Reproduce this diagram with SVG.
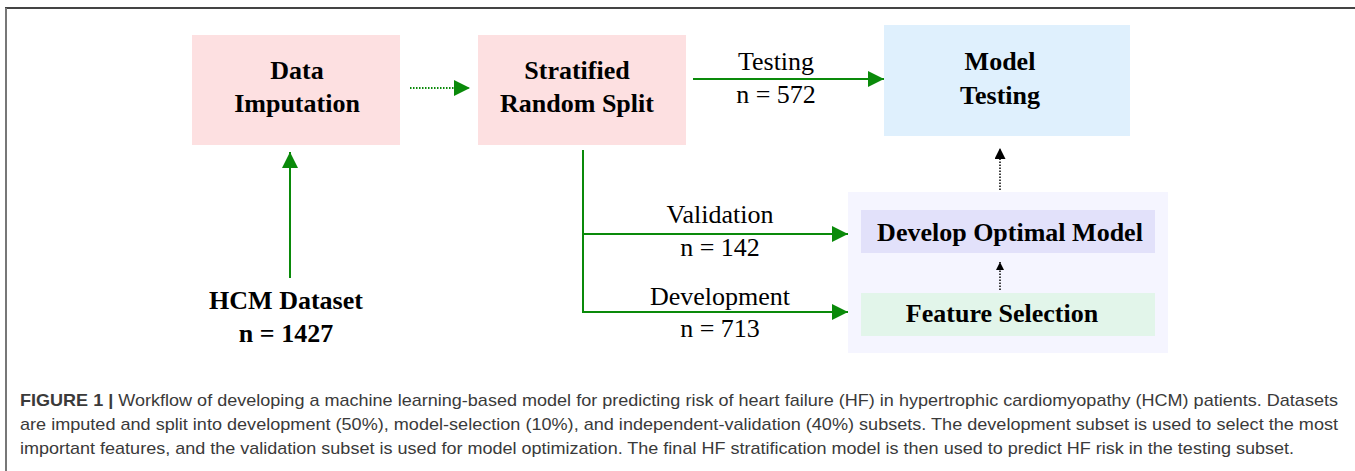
<svg xmlns="http://www.w3.org/2000/svg" width="1355" height="471" viewBox="0 0 1355 471">
  <style>
    .box-text { font-family: "Liberation Serif", "Times New Roman", serif; font-weight: bold; font-size: 26px; fill: #000; text-anchor: middle; }
    .edge-label { font-family: "Liberation Serif", "Times New Roman", serif; font-size: 26px; fill: #000; text-anchor: middle; }
    .flow { stroke: #0a8a0a; stroke-width: 2; fill: none; }
    .flow-dot { stroke: #0a8a0a; stroke-width: 2; fill: none; stroke-dasharray: 1.5 1.5; }
    .ctrl-dot { stroke: #000; stroke-width: 1.5; fill: none; stroke-dasharray: 1.5 1.5; }
    .caption { font-family: "Liberation Sans", Arial, sans-serif; font-size: 17px; fill: #3a3a3a; }
  </style>
  <defs>
    <marker id="arrow-green-lg" viewBox="0 0 10 10" refX="10" refY="5" markerWidth="24" markerHeight="16" markerUnits="userSpaceOnUse" orient="auto">
      <path d="M0,0 L10,5 L0,10 z" fill="#0a8a0a"/>
    </marker>
    <marker id="arrow-black" viewBox="0 0 10 10" refX="10" refY="5" markerWidth="15" markerHeight="11" markerUnits="userSpaceOnUse" orient="auto">
      <path d="M0,0 L10,5 L0,10 z" fill="#000"/>
    </marker>
    <marker id="arrow-black-sm" viewBox="0 0 10 10" refX="10" refY="5" markerWidth="11" markerHeight="8" markerUnits="userSpaceOnUse" orient="auto">
      <path d="M0,0 L10,5 L0,10 z" fill="#000"/>
    </marker>
  </defs>

  <!-- frame -->
  <line x1="5" y1="8" x2="1355" y2="8" stroke="#444" stroke-width="2"/>
  <line x1="6" y1="8" x2="6" y2="471" stroke="#777" stroke-width="2"/>

  <!-- model development container -->
  <rect id="dev-container" x="848" y="192" width="320" height="161" fill="#f5f5ff"/>

  <g id="data-imputation">
    <rect x="192" y="35" width="208" height="110" fill="#fde0e1"/>
    <text class="box-text" x="297" y="79">Data</text>
    <text class="box-text" x="297" y="112">Imputation</text>
  </g>

  <g id="stratified-split">
    <rect x="478" y="35" width="208" height="110" fill="#fde0e1"/>
    <text class="box-text" x="577" y="79">Stratified</text>
    <text class="box-text" x="577" y="112">Random Split</text>
  </g>

  <g id="model-testing">
    <rect x="884" y="25" width="246" height="111" fill="#dff0fd"/>
    <text class="box-text" x="1000" y="70">Model</text>
    <text class="box-text" x="1000" y="104">Testing</text>
  </g>

  <g id="develop-optimal-model">
    <rect x="861" y="210" width="294" height="43" fill="#e2e1fa"/>
    <text class="box-text" x="1010" y="241">Develop Optimal Model</text>
  </g>

  <g id="feature-selection">
    <rect x="861" y="293" width="294" height="43" fill="#e2f5ea"/>
    <text class="box-text" x="1002" y="322">Feature Selection</text>
  </g>

  <g id="hcm-dataset">
    <text class="box-text" x="286" y="309">HCM Dataset</text>
    <text class="box-text" x="286" y="342">n = 1427</text>
  </g>

  <g id="connectors">
    <!-- dataset to imputation -->
    <line class="flow" x1="290" y1="278" x2="290" y2="152" marker-end="url(#arrow-green-lg)"/>
    <!-- imputation to split -->
    <line class="flow-dot" x1="410" y1="88" x2="470" y2="88" marker-end="url(#arrow-green-lg)"/>
    <!-- split to testing -->
    <line class="flow" x1="693" y1="79" x2="884" y2="79" marker-end="url(#arrow-green-lg)"/>
    <!-- split to validation / development -->
    <polyline class="flow" points="583,150 583,312 848,312" marker-end="url(#arrow-green-lg)"/>
    <line class="flow" x1="583" y1="234" x2="848" y2="234" marker-end="url(#arrow-green-lg)"/>
    <!-- container to model testing -->
    <line class="ctrl-dot" x1="1000" y1="190" x2="1000" y2="148" marker-end="url(#arrow-black)"/>
    <!-- feature selection to optimal model -->
    <line class="ctrl-dot" x1="1000" y1="290" x2="1000" y2="262" marker-end="url(#arrow-black-sm)"/>

    <text class="edge-label" x="776" y="70">Testing</text>
    <text class="edge-label" x="776" y="103">n = 572</text>
    <text class="edge-label" x="720" y="223">Validation</text>
    <text class="edge-label" x="720" y="256">n = 142</text>
    <text class="edge-label" x="720" y="305">Development</text>
    <text class="edge-label" x="720" y="337">n = 713</text>
  </g>

  <!-- caption -->
  <text class="caption" x="20" y="406" textLength="1318" lengthAdjust="spacingAndGlyphs"><tspan font-weight="bold">FIGURE 1 |</tspan> Workflow of developing a machine learning-based model for predicting risk of heart failure (HF) in hypertrophic cardiomyopathy (HCM) patients. Datasets</text>
  <text class="caption" x="20" y="430" textLength="1318" lengthAdjust="spacingAndGlyphs">are imputed and split into development (50%), model-selection (10%), and independent-validation (40%) subsets. The development subset is used to select the most</text>
  <text class="caption" x="20" y="454" textLength="1274" lengthAdjust="spacingAndGlyphs">important features, and the validation subset is used for model optimization. The final HF stratification model is then used to predict HF risk in the testing subset.</text>
</svg>
